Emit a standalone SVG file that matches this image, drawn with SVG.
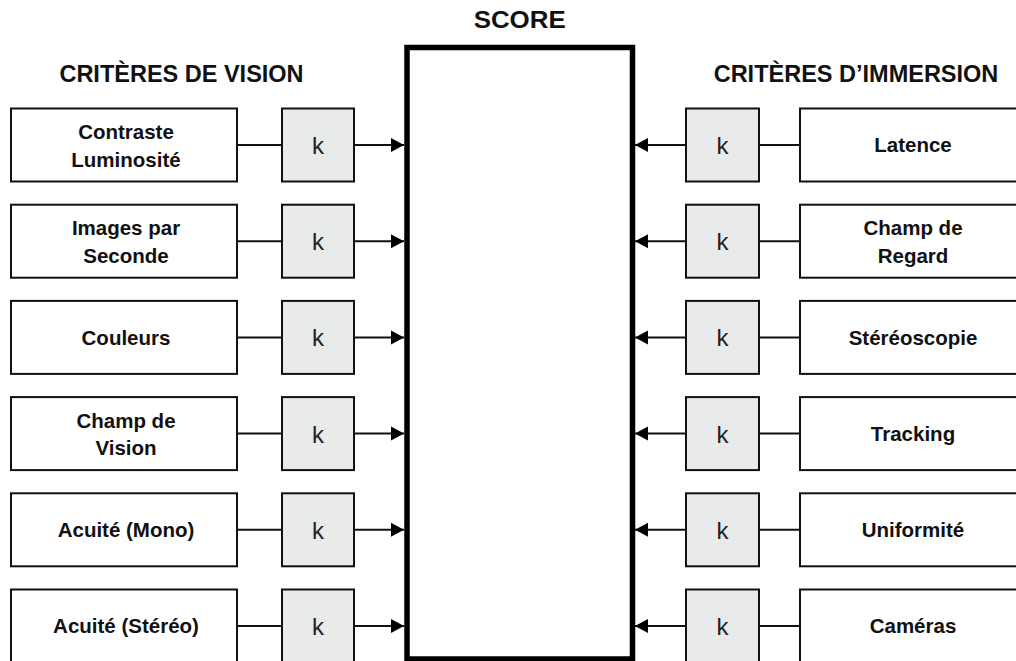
<svg xmlns="http://www.w3.org/2000/svg" width="1016" height="661" viewBox="0 0 1016 661">
<defs>
<style>
.box{fill:#fff;stroke:#111;stroke-width:2}
.kbox{fill:#e9eaea;stroke:#111;stroke-width:2}
.score{fill:#fff;stroke:#000;stroke-width:5.5}
.lbl{font-family:"Liberation Sans",Arial,sans-serif;font-weight:bold;font-size:20.5px;fill:#111;text-anchor:middle}
.head{font-family:"Liberation Sans",Arial,sans-serif;font-weight:bold;font-size:23.5px;fill:#111;text-anchor:middle}
.k{font-family:"Liberation Sans",Arial,sans-serif;font-size:24px;fill:#222;text-anchor:middle}
.con{stroke:#111;stroke-width:2;fill:none}
</style>
<marker id="arr" markerUnits="userSpaceOnUse" markerWidth="14" markerHeight="15" refX="13" refY="7.5" orient="auto">
<path d="M0,0.5 L13,7.5 L0,14.5 z" fill="#000"/>
</marker>
</defs>
<rect width="1016" height="661" fill="#fff"/>
<text class="head" x="519.7" y="28" textLength="92" lengthAdjust="spacingAndGlyphs">SCORE</text>
<text class="head" x="181.5" y="82">CRITÈRES DE VISION</text>
<text class="head" x="856" y="82">CRITÈRES D’IMMERSION</text>
<g id="score"><rect class="score" x="407" y="47.5" width="225.5" height="611.5"/></g>
<g id="connectors">
<line class="con" x1="237" y1="145" x2="282" y2="145"/>
<line class="con" x1="354" y1="145" x2="404" y2="145" marker-end="url(#arr)"/>
<line class="con" x1="237" y1="241.2" x2="282" y2="241.2"/>
<line class="con" x1="354" y1="241.2" x2="404" y2="241.2" marker-end="url(#arr)"/>
<line class="con" x1="237" y1="337.4" x2="282" y2="337.4"/>
<line class="con" x1="354" y1="337.4" x2="404" y2="337.4" marker-end="url(#arr)"/>
<line class="con" x1="237" y1="433.6" x2="282" y2="433.6"/>
<line class="con" x1="354" y1="433.6" x2="404" y2="433.6" marker-end="url(#arr)"/>
<line class="con" x1="237" y1="529.8" x2="282" y2="529.8"/>
<line class="con" x1="354" y1="529.8" x2="404" y2="529.8" marker-end="url(#arr)"/>
<line class="con" x1="237" y1="626" x2="282" y2="626"/>
<line class="con" x1="354" y1="626" x2="404" y2="626" marker-end="url(#arr)"/>
<line class="con" x1="800" y1="145" x2="759" y2="145"/>
<line class="con" x1="686" y1="145" x2="635" y2="145" marker-end="url(#arr)"/>
<line class="con" x1="800" y1="241.2" x2="759" y2="241.2"/>
<line class="con" x1="686" y1="241.2" x2="635" y2="241.2" marker-end="url(#arr)"/>
<line class="con" x1="800" y1="337.4" x2="759" y2="337.4"/>
<line class="con" x1="686" y1="337.4" x2="635" y2="337.4" marker-end="url(#arr)"/>
<line class="con" x1="800" y1="433.6" x2="759" y2="433.6"/>
<line class="con" x1="686" y1="433.6" x2="635" y2="433.6" marker-end="url(#arr)"/>
<line class="con" x1="800" y1="529.8" x2="759" y2="529.8"/>
<line class="con" x1="686" y1="529.8" x2="635" y2="529.8" marker-end="url(#arr)"/>
<line class="con" x1="800" y1="626" x2="759" y2="626"/>
<line class="con" x1="686" y1="626" x2="635" y2="626" marker-end="url(#arr)"/>
</g>
<g id="n-contraste"><rect class="box" x="11" y="108.5" width="226" height="73"/><text class="lbl" x="126" y="139">Contraste</text><text class="lbl" x="126" y="166.5">Luminosité</text></g>
<g id="n-images"><rect class="box" x="11" y="204.7" width="226" height="73"/><text class="lbl" x="126" y="235.2">Images par</text><text class="lbl" x="126" y="262.7">Seconde</text></g>
<g id="n-couleurs"><rect class="box" x="11" y="300.9" width="226" height="73"/><text class="lbl" x="126" y="344.6">Couleurs</text></g>
<g id="n-champvision"><rect class="box" x="11" y="397.1" width="226" height="73"/><text class="lbl" x="126" y="427.6">Champ de</text><text class="lbl" x="126" y="455.1">Vision</text></g>
<g id="n-acuitemono"><rect class="box" x="11" y="493.3" width="226" height="73"/><text class="lbl" x="126" y="537">Acuité (Mono)</text></g>
<g id="n-acuitestereo"><rect class="box" x="11" y="589.5" width="226" height="73"/><text class="lbl" x="126" y="633.2">Acuité (Stéréo)</text></g>
<g id="k-l1"><rect class="kbox" x="282" y="108.5" width="72" height="73"/><text class="k" x="318" y="154">k</text></g>
<g id="k-l2"><rect class="kbox" x="282" y="204.7" width="72" height="73"/><text class="k" x="318" y="250.2">k</text></g>
<g id="k-l3"><rect class="kbox" x="282" y="300.9" width="72" height="73"/><text class="k" x="318" y="346.4">k</text></g>
<g id="k-l4"><rect class="kbox" x="282" y="397.1" width="72" height="73"/><text class="k" x="318" y="442.6">k</text></g>
<g id="k-l5"><rect class="kbox" x="282" y="493.3" width="72" height="73"/><text class="k" x="318" y="538.8">k</text></g>
<g id="k-l6"><rect class="kbox" x="282" y="589.5" width="72" height="73"/><text class="k" x="318" y="635">k</text></g>
<g id="k-r1"><rect class="kbox" x="686" y="108.5" width="73" height="73"/><text class="k" x="722.5" y="154">k</text></g>
<g id="k-r2"><rect class="kbox" x="686" y="204.7" width="73" height="73"/><text class="k" x="722.5" y="250.2">k</text></g>
<g id="k-r3"><rect class="kbox" x="686" y="300.9" width="73" height="73"/><text class="k" x="722.5" y="346.4">k</text></g>
<g id="k-r4"><rect class="kbox" x="686" y="397.1" width="73" height="73"/><text class="k" x="722.5" y="442.6">k</text></g>
<g id="k-r5"><rect class="kbox" x="686" y="493.3" width="73" height="73"/><text class="k" x="722.5" y="538.8">k</text></g>
<g id="k-r6"><rect class="kbox" x="686" y="589.5" width="73" height="73"/><text class="k" x="722.5" y="635">k</text></g>
<g id="n-latence"><rect class="box" x="800" y="108.5" width="226" height="73"/><text class="lbl" x="913" y="152.2">Latence</text></g>
<g id="n-champregard"><rect class="box" x="800" y="204.7" width="226" height="73"/><text class="lbl" x="913" y="235.2">Champ de</text><text class="lbl" x="913" y="262.7">Regard</text></g>
<g id="n-stereo"><rect class="box" x="800" y="300.9" width="226" height="73"/><text class="lbl" x="913" y="344.6">Stéréoscopie</text></g>
<g id="n-tracking"><rect class="box" x="800" y="397.1" width="226" height="73"/><text class="lbl" x="913" y="440.8">Tracking</text></g>
<g id="n-uniformite"><rect class="box" x="800" y="493.3" width="226" height="73"/><text class="lbl" x="913" y="537">Uniformité</text></g>
<g id="n-cameras"><rect class="box" x="800" y="589.5" width="226" height="73"/><text class="lbl" x="913" y="633.2">Caméras</text></g>
</svg>
